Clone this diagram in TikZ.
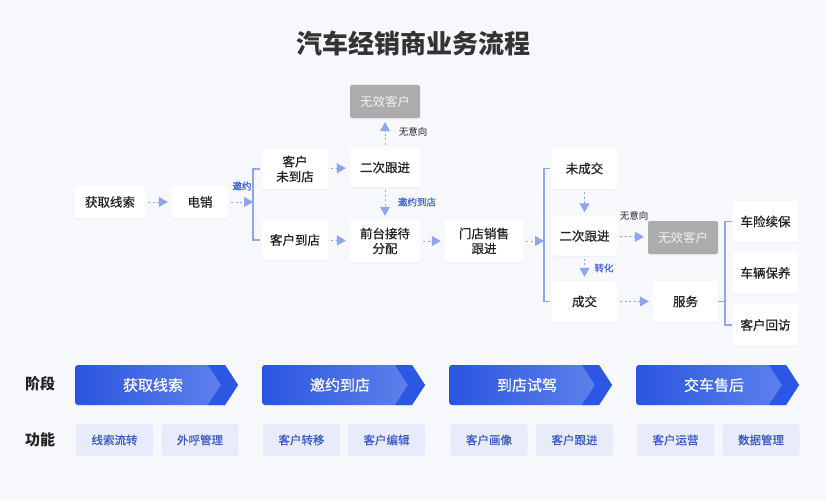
\documentclass[tikz,border=0pt]{standalone}
\usepackage{fontspec}
\setmainfont{Noto Sans CJK SC}
\newfontfamily\medfont{Noto Sans CJK SC}[FakeBold=0.6]
\usetikzlibrary{arrows.meta,shadows,calc}
\definecolor{bg}{HTML}{F6F8FC}
\definecolor{txt}{HTML}{222222}
\definecolor{ttl}{HTML}{333333}
\definecolor{ln}{HTML}{8FA5EC}
\definecolor{lbl}{HTML}{3E5ED8}
\definecolor{gbox}{HTML}{ACACAC}
\definecolor{bdark}{HTML}{2A55E0}
\definecolor{blight}{HTML}{6485EC}
\definecolor{bband}{HTML}{2C57E4}
\definecolor{ffill}{HTML}{E8ECFA}
\definecolor{ftxt}{HTML}{3B58C8}
\begin{document}
\begin{tikzpicture}[x=1pt,y=-1pt,
  box/.style={fill=white, rounded corners=2pt, minimum height=40pt, minimum width=66pt,
    inner sep=0pt, align=center, text=txt, font=\fontsize{12.5}{15}\medfont,
    drop shadow={opacity=0.05, shadow xshift=0pt, shadow yshift=-1.5pt}},
  gray box/.style={box, fill=gbox, text=white!90!gray, font=\fontsize{12.5}{15}\selectfont, drop shadow={opacity=0}},
  flow/.style={draw=ln, line width=1pt, dash pattern=on 2pt off 2.5pt,
    -{Triangle[width=10pt,length=9pt]}, shorten <=3pt, shorten >=4pt},
  brk/.style={draw=ln, line width=1.2pt},
  note/.style={font=\fontsize{9.5}{11}\selectfont, text=txt, inner sep=0pt},
  bnote/.style={note, text=lbl, font=\fontsize{9.5}{11}\medfont},
  stagetxt/.style={font=\fontsize{15}{18}\medfont, text=white, inner sep=0pt},
  rowlbl/.style={font=\fontsize{15}{18}\selectfont\bfseries, text=txt, inner sep=0pt},
  fbox/.style={fill=ffill, rounded corners=3pt, minimum width=77pt, minimum height=32pt,
    inner sep=0pt, text=ftxt, font=\fontsize{11.5}{14}\medfont}
]
\fill[bg] (0,0) rectangle (826,500);
\path[use as bounding box] (0,0) rectangle (826,500);

% title
\node[font=\fontsize{26}{30}\selectfont\bfseries, text=ttl, inner sep=0pt] (title) at (413,43) {汽车经销商业务流程};

% flow nodes
\node[box, minimum width=70pt, minimum height=32pt] (lead) at (110,202) {获取线索};
\node[box, minimum width=56pt, minimum height=32pt] (call) at (200,202) {电销};
\node[box] (noshow) at (295,169) {客户\\未到店};
\node[box] (show) at (295,240) {客户到店};
\node[box, minimum width=70pt, minimum height=39pt] (fu1) at (385,167.5) {二次跟进};
\node[gray box, minimum width=70pt, minimum height=33pt] (inv1) at (385,101.5) {无效客户};
\node[box, minimum width=70pt, minimum height=42pt] (recp) at (385,241) {前台接待\\分配};
\node[box, minimum width=78pt, minimum height=42pt] (sales) at (484,241) {门店销售\\跟进};
\node[box, minimum width=65pt, minimum height=41pt] (nodeal) at (584.5,168.5) {未成交};
\node[box, minimum width=65pt, minimum height=39pt] (fu2) at (584.5,236) {二次跟进};
\node[box, minimum width=65pt, minimum height=41pt] (deal) at (584.5,301.5) {成交};
\node[gray box, minimum width=70pt, minimum height=33pt] (inv2) at (683,237.5) {无效客户};
\node[box, minimum width=65pt, minimum height=41pt] (serv) at (685.5,301.5) {服务};
\node[box, minimum width=65pt, minimum height=41pt] (ins) at (765.5,221.5) {车险续保};
\node[box, minimum width=65pt, minimum height=41pt] (maint) at (765.5,273) {车辆保养};
\node[box, minimum width=65pt, minimum height=41pt] (visit) at (765.5,325) {客户回访};

% junctions
\coordinate (j1) at (253,202);
\coordinate (j2) at (544,239);
\coordinate (j3) at (725,301.5);

% connectors
\draw[flow] (lead) -- (call);
\draw[flow, shorten >=0pt] (call) -- (j1);
\draw[brk] ([xshift=-2pt]noshow.west) -| (j1) |- ([xshift=-2pt]show.west);
\draw[flow] (noshow) -- (fu1);
\draw[flow] (show) -- (recp);
\draw[flow] (fu1) -- (inv1);
\draw[flow] (fu1) -- (recp);
\draw[flow] (recp) -- (sales);
\draw[flow, shorten >=0pt] (sales.east) -- (sales.east -| j2);
\draw[brk] ([xshift=-2pt]nodeal.west) -| (j2) |- ([xshift=-2pt]deal.west);
\draw[flow] (nodeal) -- (fu2);
\draw[flow] (fu2) -- (inv2);
\draw[flow] (fu2) -- (deal);
\draw[flow] (deal) -- (serv);
\draw[brk] (serv.east) -- (j3);
\draw[brk] ([xshift=-1pt]ins.west) -- (j3 |- ins.west) -- (j3 |- visit.west) -- ([xshift=-1pt]visit.west);

% labels
\node[bnote] (l1) at (242,186) {邀约};
\node[note] (l2) at (413,132) {无意向};
\node[bnote] (l3) at (417,202) {邀约到店};
\node[note] (l4) at (634,216) {无意向};
\node[bnote] (l5) at (604,268) {转化};

% stage row
\node[rowlbl] (rs) at (40,384) {阶段};
\node[rowlbl] (rf) at (40,440) {功能};

\foreach \x/\t/\n in {75/获取线索/s1, 262/邀约到店/s2, 449/到店试驾/s3, 636/交车售后/s4}{
  \shade[left color=bdark, right color=blight]
    (\x+150,365) [rounded corners=3pt] -- (\x,365) -- (\x,405) [sharp corners] -- (\x+150,405) -- (\x+163,385) -- cycle;
  \fill[bband] (\x+133,365) -- (\x+150,365) -- (\x+163,385) -- (\x+150,405) -- (\x+133,405) -- (\x+146,385) -- cycle;
  \node[stagetxt] (\n) at (\x+78,385) {\t};
}

\node[fbox] (f1) at (114.5,440) {线索流转};
\node[fbox] (f2) at (200,440) {外呼管理};
\node[fbox] (f3) at (301.5,440) {客户转移};
\node[fbox] (f4) at (386.5,440) {客户编辑};
\node[fbox] (f5) at (489,440) {客户画像};
\node[fbox] (f6) at (574.5,440) {客户跟进};
\node[fbox] (f7) at (675.5,440) {客户运营};
\node[fbox] (f8) at (761,440) {数据管理};
\end{tikzpicture}
\end{document}
